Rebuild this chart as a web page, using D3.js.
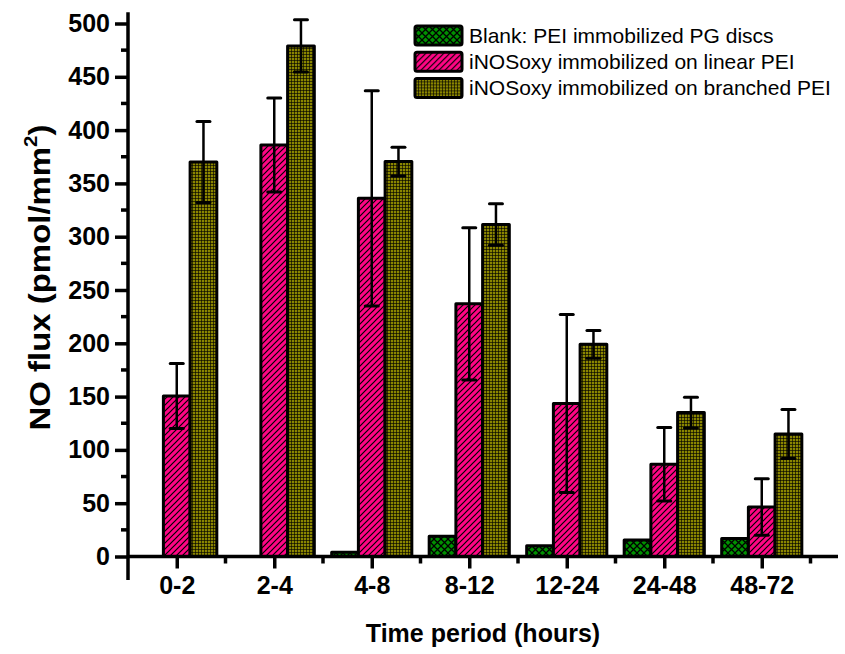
<!DOCTYPE html>
<html>
<head>
<meta charset="utf-8">
<script src="https://cdn.jsdelivr.net/npm/d3@7"></script>
<style>
  body { margin: 0; background: #fff; }
  svg { display: block; font-family: 'Liberation Sans', Arial, sans-serif; }
</style>
</head>
<body>
<div id="chart"></div>
<script>
// Time periods on the x axis
const periods = ['0-2', '2-4', '4-8', '8-12', '12-24', '24-48', '48-72'];

// NO flux (pmol/mm^2) per series
const blankValues = [0, 0, 4, 19, 10, 15.5, 17];
const linearValues = [150.5, 386, 336, 237, 143.5, 86.5, 46.5];
const linearErrors = [30.5, 44, 101, 71.5, 83.5, 34.5, 26.5];
const branchedValues = [370, 479, 370.5, 311.5, 199, 135, 115];
const branchedErrors = [38, 24.5, 13.5, 19.5, 13, 14.5, 23];

const seriesNames = [
  'Blank: PEI immobilized PG discs',
  'iNOSoxy immobilized on linear PEI',
  'iNOSoxy immobilized on branched PEI',
];

const yTicks = [0, 50, 100, 150, 200, 250, 300, 350, 400, 450, 500];
const yMinorTicks = [25, 75, 125, 175, 225, 275, 325, 375, 425, 475];

const width = 845;
const height = 654;

const svg = d3
  .select('#chart')
  .append('svg')
  .attr('width', width)
  .attr('height', height);

// Fill patterns (Origin-like hatches)
const defs = svg.append('defs');

const crossPat = defs
  .append('pattern')
  .attr('id', 'pat-cross')
  .attr('patternUnits', 'userSpaceOnUse')
  .attr('width', 7)
  .attr('height', 7);
crossPat.append('rect').attr('width', 7).attr('height', 7).attr('fill', '#009000');
crossPat
  .append('path')
  .attr('d', 'M0,0L7,7M7,0L0,7')
  .attr('stroke', '#000')
  .attr('stroke-width', 1.3);

const diagPat = defs
  .append('pattern')
  .attr('id', 'pat-diag')
  .attr('patternUnits', 'userSpaceOnUse')
  .attr('width', 6)
  .attr('height', 6);
diagPat.append('rect').attr('width', 6).attr('height', 6).attr('fill', '#ff0585');
diagPat
  .append('path')
  .attr('d', 'M0,6L6,0M-1,1L1,-1M5,7L7,5')
  .attr('stroke', '#000')
  .attr('stroke-width', 1.2);

const gridPat = defs
  .append('pattern')
  .attr('id', 'pat-grid')
  .attr('patternUnits', 'userSpaceOnUse')
  .attr('width', 3)
  .attr('height', 3);
gridPat.append('rect').attr('width', 3).attr('height', 3).attr('fill', '#8a8500');
gridPat
  .append('path')
  .attr('d', 'M0,0.4H3M0.4,0V3')
  .attr('stroke', '#000')
  .attr('stroke-width', 0.7);

const fills = ['url(#pat-cross)', 'url(#pat-diag)', 'url(#pat-grid)'];

// Scales
const xscale = d3.scaleLinear().domain([-0.5, 6.5]).range([128, 810.5]);
const yscale = d3.scaleLinear().domain([0, 500]).range([556.5, 23.5]);
const barW = xscale(0.274) - xscale(0);

const series = [
  { values: blankValues, errors: null, offset: -1 },
  { values: linearValues, errors: linearErrors, offset: 0 },
  { values: branchedValues, errors: branchedErrors, offset: 1 },
];

// Bars
series.forEach((s, si) => {
  svg
    .append('g')
    .selectAll('rect')
    .data(s.values)
    .join('rect')
    .attr('x', (d, i) => xscale(i) + (s.offset - 0.5) * barW)
    .attr('y', (d) => yscale(d))
    .attr('width', barW)
    .attr('height', (d) => yscale(0) - yscale(d))
    .attr('fill', fills[si])
    .attr('stroke', '#000')
    .attr('stroke-width', 3)
    .attr('stroke-linejoin', 'round');
});

// Error bars
series
  .filter((s) => s.errors)
  .forEach((s) => {
    const g = svg.append('g').attr('stroke', '#000');
    s.values.forEach((v, i) => {
      const cx = xscale(i) + s.offset * barW;
      const lo = yscale(v - s.errors[i]);
      const hi = yscale(v + s.errors[i]);
      g.append('line')
        .attr('x1', cx).attr('x2', cx)
        .attr('y1', lo).attr('y2', hi)
        .attr('stroke-width', 2.5);
      [lo, hi].forEach((yy) => {
        g.append('line')
          .attr('x1', cx - 6.5).attr('x2', cx + 6.5)
          .attr('y1', yy).attr('y2', yy)
          .attr('stroke-width', 3)
          .attr('stroke-linecap', 'round');
      });
    });
  });

// Axes
const yAxis = d3.axisLeft(yscale).tickValues(yTicks).tickSize(13).tickPadding(5);
const yAxisG = svg
  .append('g')
  .attr('transform', `translate(${xscale(-0.5)},0)`)
  .call(yAxis);
yAxisG.select('.domain').remove();
yAxisG
  .append('g')
  .selectAll('line')
  .data(yMinorTicks)
  .join('line')
  .attr('x2', -7)
  .attr('y1', (d) => yscale(d))
  .attr('y2', (d) => yscale(d));

const xAxis = d3
  .axisBottom(xscale)
  .tickValues(d3.range(periods.length))
  .tickFormat((i) => periods[i])
  .tickSize(12)
  .tickPadding(8);
const xAxisG = svg
  .append('g')
  .attr('transform', `translate(0,${yscale(0)})`)
  .call(xAxis);
xAxisG.select('.domain').remove();
xAxisG
  .append('g')
  .selectAll('line')
  .data(d3.range(periods.length).map((i) => i + 0.5))
  .join('line')
  .attr('x1', (d) => xscale(d))
  .attr('x2', (d) => xscale(d))
  .attr('y2', 7);

// Axis lines (Origin style, crossing beyond origin)
svg
  .append('line')
  .attr('x1', xscale(-0.5)).attr('x2', xscale(-0.5))
  .attr('y1', yscale(-22)).attr('y2', yscale(510.5));
svg
  .append('line')
  .attr('x1', xscale(-0.5)).attr('x2', 838)
  .attr('y1', yscale(0)).attr('y2', yscale(0));

svg.selectAll('line').filter(function () {
  return !this.closest('pattern') && !this.getAttribute('stroke-width');
})
  .attr('stroke', '#000')
  .attr('stroke-width', 3.5);

svg
  .selectAll('.tick text')
  .attr('fill', '#000')
  .style('font-size', '25px')
  .style('font-weight', 'bold')
  .style('font-family', "'Liberation Sans', Arial, sans-serif");

// Axis titles
svg
  .append('text')
  .attr('x', 483)
  .attr('y', 642)
  .attr('text-anchor', 'middle')
  .style('font-size', '25px')
  .style('font-weight', 'bold')
  .text('Time period (hours)');

const yTitle = svg
  .append('text')
  .attr('transform', 'translate(50,277.5) rotate(-90)')
  .attr('text-anchor', 'middle')
  .attr('textLength', 306)
  .attr('lengthAdjust', 'spacingAndGlyphs')
  .style('font-size', '29px')
  .style('font-weight', 'bold');
yTitle.append('tspan').text('NO flux (pmol/mm');
yTitle.append('tspan').attr('dy', -13).style('font-size', '18px').text('2');
yTitle.append('tspan').attr('dy', 13).text(')');

// Legend
const legend = svg.append('g').attr('transform', 'translate(415,26)');
seriesNames.forEach((name, i) => {
  const row = legend.append('g').attr('transform', `translate(0,${i * 26.2})`);
  row
    .append('rect')
    .attr('width', 47)
    .attr('height', 19)
    .attr('rx', 2)
    .attr('fill', fills[i])
    .attr('stroke', '#000')
    .attr('stroke-width', 3);
  row
    .append('text')
    .attr('x', 54)
    .attr('y', 16.8)
    .style('font-size', '21px')
    .text(name);
});
</script>
</body>
</html>
